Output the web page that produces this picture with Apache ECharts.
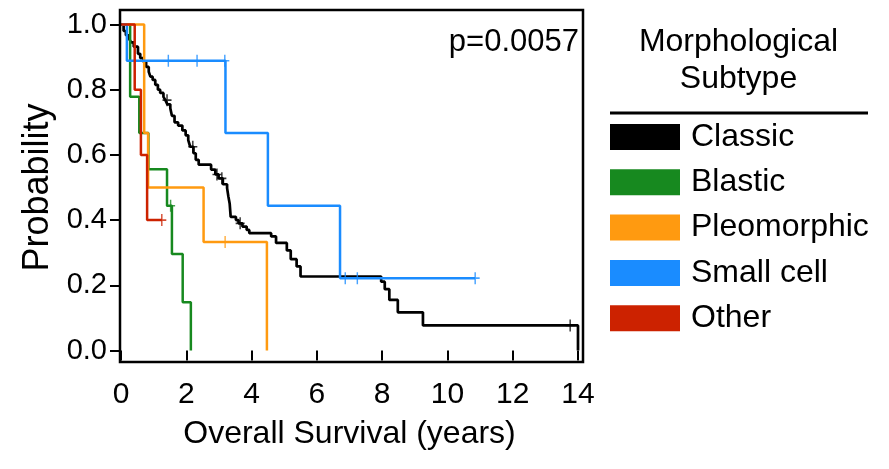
<!DOCTYPE html>
<html><head><meta charset="utf-8">
<script src="https://cdn.jsdelivr.net/npm/echarts@6/dist/echarts.min.js"></script>
<style>html,body{margin:0;padding:0;background:#fff}#c{width:889px;height:469px}</style>
</head><body><div id="c"></div>
<script>
const groupNames = ['Classic', 'Blastic', 'Pleomorphic', 'Small cell', 'Other'];
const groupColors = ['#000000', '#17891f', '#ff9a10', '#1a8cff', '#cc2200'];
const xTicks = [0, 2, 4, 6, 8, 10, 12, 14];
const yTicks = [0.0, 0.2, 0.4, 0.6, 0.8, 1.0];
const pValueText = 'p=0.0057';

// survival curves: [time (years), survival probability after the event]
const classicCurve = [[0,1],[0.08,0.98],[0.15,0.967],[0.25,0.956],[0.31,0.945],[0.39,0.932],[0.52,0.91],[0.59,0.897],[0.69,0.885],[0.77,0.87],[0.85,0.855],[0.9,0.84],[0.97,0.83],[1.05,0.815],[1.13,0.8],[1.2,0.79],[1.3,0.778],[1.36,0.768],[1.42,0.755],[1.51,0.743],[1.56,0.72],[1.64,0.7],[1.75,0.69],[1.88,0.675],[1.98,0.66],[2.06,0.645],[2.12,0.625],[2.22,0.605],[2.29,0.585],[2.38,0.57],[2.76,0.555],[2.89,0.54],[2.99,0.528],[3.12,0.51],[3.25,0.498],[3.29,0.472],[3.33,0.45],[3.36,0.41],[3.52,0.4],[3.6,0.39],[3.72,0.38],[3.85,0.37],[3.93,0.36],[4.6,0.35],[4.75,0.33],[5.08,0.307],[5.2,0.28],[5.38,0.258],[5.5,0.227],[7.97,0.211],[8.08,0.188],[8.22,0.155],[8.48,0.117],[9.25,0.077],[14.0,0]];
const blasticCurve = [[0,1],[0.28,0.778],[0.56,0.667],[0.84,0.556],[1.41,0.444],[1.56,0.296],[1.89,0.148],[2.14,0]];
const pleomorphicCurve = [[0,1],[0.71,0.667],[0.83,0.5],[2.53,0.333],[4.47,0]];
const smallCellCurve = [[0,1],[0.18,0.889],[3.2,0.667],[4.5,0.444],[6.71,0.222],[10.85,0.222]];
const otherCurve = [[0,1],[0.42,0.8],[0.61,0.6],[0.8,0.4],[1.25,0.4]];

// censoring times
const classicCensor = [1.41, 2.2, 2.94, 3.09, 3.65, 13.76];
const blasticCensor = [1.52];
const pleomorphicCensor = [3.19];
const smallCellCensor = [1.45, 2.33, 3.18, 6.87, 7.24, 10.85];
const otherCensor = [1.25];

const curves = [classicCurve, blasticCurve, pleomorphicCurve, smallCellCurve, otherCurve];
const censors = [classicCensor, blasticCensor, pleomorphicCensor, smallCellCensor, otherCensor];

function survAt(curve, t) {
  let p = curve[0][1];
  for (const pt of curve) { if (pt[0] <= t) p = pt[1]; }
  return p;
}

const plusPath = 'path://M4.2,0H5.8V5.2H10V6.8H5.8V12H4.2V6.8H0V5.2H4.2Z';
const series = [];
groupNames.forEach((name, i) => {
  series.push({
    name: name, type: 'line', step: 'end', data: curves[i],
    showSymbol: false, symbol: 'none', clip: false, animation: false,
    lineStyle: { color: groupColors[i], width: i === 0 ? 2.7 : 2.5 },
    itemStyle: { color: groupColors[i] }, z: 3 + (i === 0 ? 0 : 1)
  });
  series.push({
    name: name + ' censored', type: 'scatter', symbol: plusPath, symbolSize: [9, 12],
    data: censors[i].map(t => [t, survAt(curves[i], t)]),
    itemStyle: { color: groupColors[i] }, clip: false, animation: false, z: 5
  });
});

const font = 'Liberation Sans, Arial, sans-serif';
const chart = echarts.init(document.getElementById('c'));
chart.setOption({
  animation: false,
  backgroundColor: '#ffffff',
  grid: { left: 121, right: 311, top: 24.5, bottom: 118.5 },
  xAxis: {
    type: 'value', min: 0, max: 14, interval: 2, offset: 11,
    name: 'Overall Survival (years)', nameLocation: 'middle', nameGap: 57,
    nameTextStyle: { fontSize: 32, color: '#000', fontFamily: font },
    axisLine: { show: false }, splitLine: { show: false },
    axisTick: { show: true, length: 10, lineStyle: { color: '#000', width: 2 } },
    axisLabel: { fontSize: 30, color: '#000', fontFamily: font, margin: 18,
      formatter: v => xTicks.includes(v) ? String(v) : '' }
  },
  yAxis: {
    type: 'value', min: 0, max: 1, interval: 0.2,
    name: 'Probability', nameLocation: 'middle', nameGap: 65,
    nameTextStyle: { fontSize: 36, color: '#000', fontFamily: font },
    axisLine: { show: false }, splitLine: { show: false },
    axisTick: { show: true, length: 11, lineStyle: { color: '#000', width: 2 } },
    axisLabel: { fontSize: 29, color: '#000', fontFamily: font, margin: 14,
      formatter: v => yTicks.some(y => Math.abs(y - v) < 1e-9) ? v.toFixed(1) : '' }
  },
  legend: {
    orient: 'vertical', left: 610, top: 121, padding: 0,
    itemWidth: 70, itemHeight: 26, itemGap: 13.3, icon: 'rect',
    data: groupNames,
    textStyle: { fontSize: 32, lineHeight: 32, color: '#000', fontFamily: font, padding: [0, 0, 0, 6] }
  },
  graphic: [
    { type: 'rect', shape: { x: 120, y: 10, width: 463, height: 352 },
      style: { fill: 'none', stroke: '#000', lineWidth: 2.5 }, z: 10, silent: true },
    { type: 'text', x: 579, y: 42, style: { text: pValueText, fontSize: 31, fontFamily: font,
      fill: '#000', textAlign: 'right', textVerticalAlign: 'middle' } },
    { type: 'text', x: 738.5, y: 42.5, style: { text: 'Morphological', fontSize: 32, fontFamily: font,
      fill: '#000', textAlign: 'center', textVerticalAlign: 'middle' } },
    { type: 'text', x: 738.5, y: 79.5, style: { text: 'Subtype', fontSize: 32, fontFamily: font,
      fill: '#000', textAlign: 'center', textVerticalAlign: 'middle' } },
    { type: 'line', shape: { x1: 610, y1: 113, x2: 868, y2: 113 },
      style: { stroke: '#000', lineWidth: 3 } }
  ],
  series: series
});
</script>
</body></html>
